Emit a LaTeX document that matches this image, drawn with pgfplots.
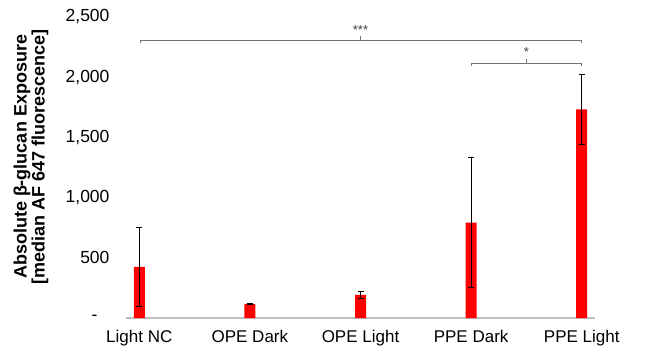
\documentclass[border=0pt]{standalone}
\usepackage{pgfplots}
\pgfplotsset{compat=1.18}
\usepackage{fontspec}
\setmainfont{Liberation Sans}
\pgfplotstableread{
x y err
0 425 325
1 117 4
2 192 30
3 792 540
4 1733 290
}\datatable
\begin{document}
\begin{tikzpicture}
\useasboundingbox (-126pt,-35pt) rectangle (542pt,318pt);
\begin{axis}[
  at={(0pt,0pt)}, anchor=south west,
  scale only axis, width=469pt, height=301pt,
  xmin=-0.12, xmax=4.12, ymin=0, ymax=2500,
  clip=false,
  axis x line*=bottom, axis y line*=left,
  y axis line style={draw=none},
  x axis line style={draw=black!25, line width=1.3pt},
  xtick={0,1,2,3,4},
  xticklabels={Light NC, OPE Dark, OPE Light, PPE Dark, PPE Light},
  ytick={0,500,1000,1500,2000,2500},
  yticklabels={{-\rule{12pt}{0pt}},{500},{1,000},{1,500},{2,000},{2,500}},
  major tick length=0pt,
  xticklabel style={font=\fontsize{17}{20}\selectfont, yshift=-9pt},
  yticklabel style={font=\fontsize{17.5}{20}\selectfont, xshift=-13pt},
  ylabel={Absolute β-glucan Exposure\\{}[median AF 647 fluorescence]},
  ylabel style={font=\bfseries\fontsize{18}{18}\selectfont, align=center,
    at={(axis description cs:-0.2026,0.535)}, anchor=center},
]
\addplot[ybar, bar width=11pt, fill=red, draw=none,
  error bars/.cd, y dir=both, y explicit,
  error bar style={black, line width=0.8pt},
  error mark options={rotate=90, mark size=3pt, black, line width=0.8pt}]
  table[x=x, y=y, y error=err] {\datatable};
\draw[black!55, line width=0.9pt]
  (axis cs:0.01,2280) -- (axis cs:0.01,2308) -- (axis cs:4,2308) -- (axis cs:4,2280)
  (axis cs:2,2308) -- (axis cs:2,2345);
\node[font=\fontsize{13}{13}\selectfont, text=black!75] at (axis cs:2,2395) {***};
\draw[black!55, line width=0.9pt]
  (axis cs:3,2092) -- (axis cs:3,2117) -- (axis cs:4,2117) -- (axis cs:4,2092)
  (axis cs:3.5,2117) -- (axis cs:3.5,2152);
\node[font=\fontsize{13}{13}\selectfont, text=black!75] at (axis cs:3.5,2205) {*};
\end{axis}
\end{tikzpicture}
\end{document}
